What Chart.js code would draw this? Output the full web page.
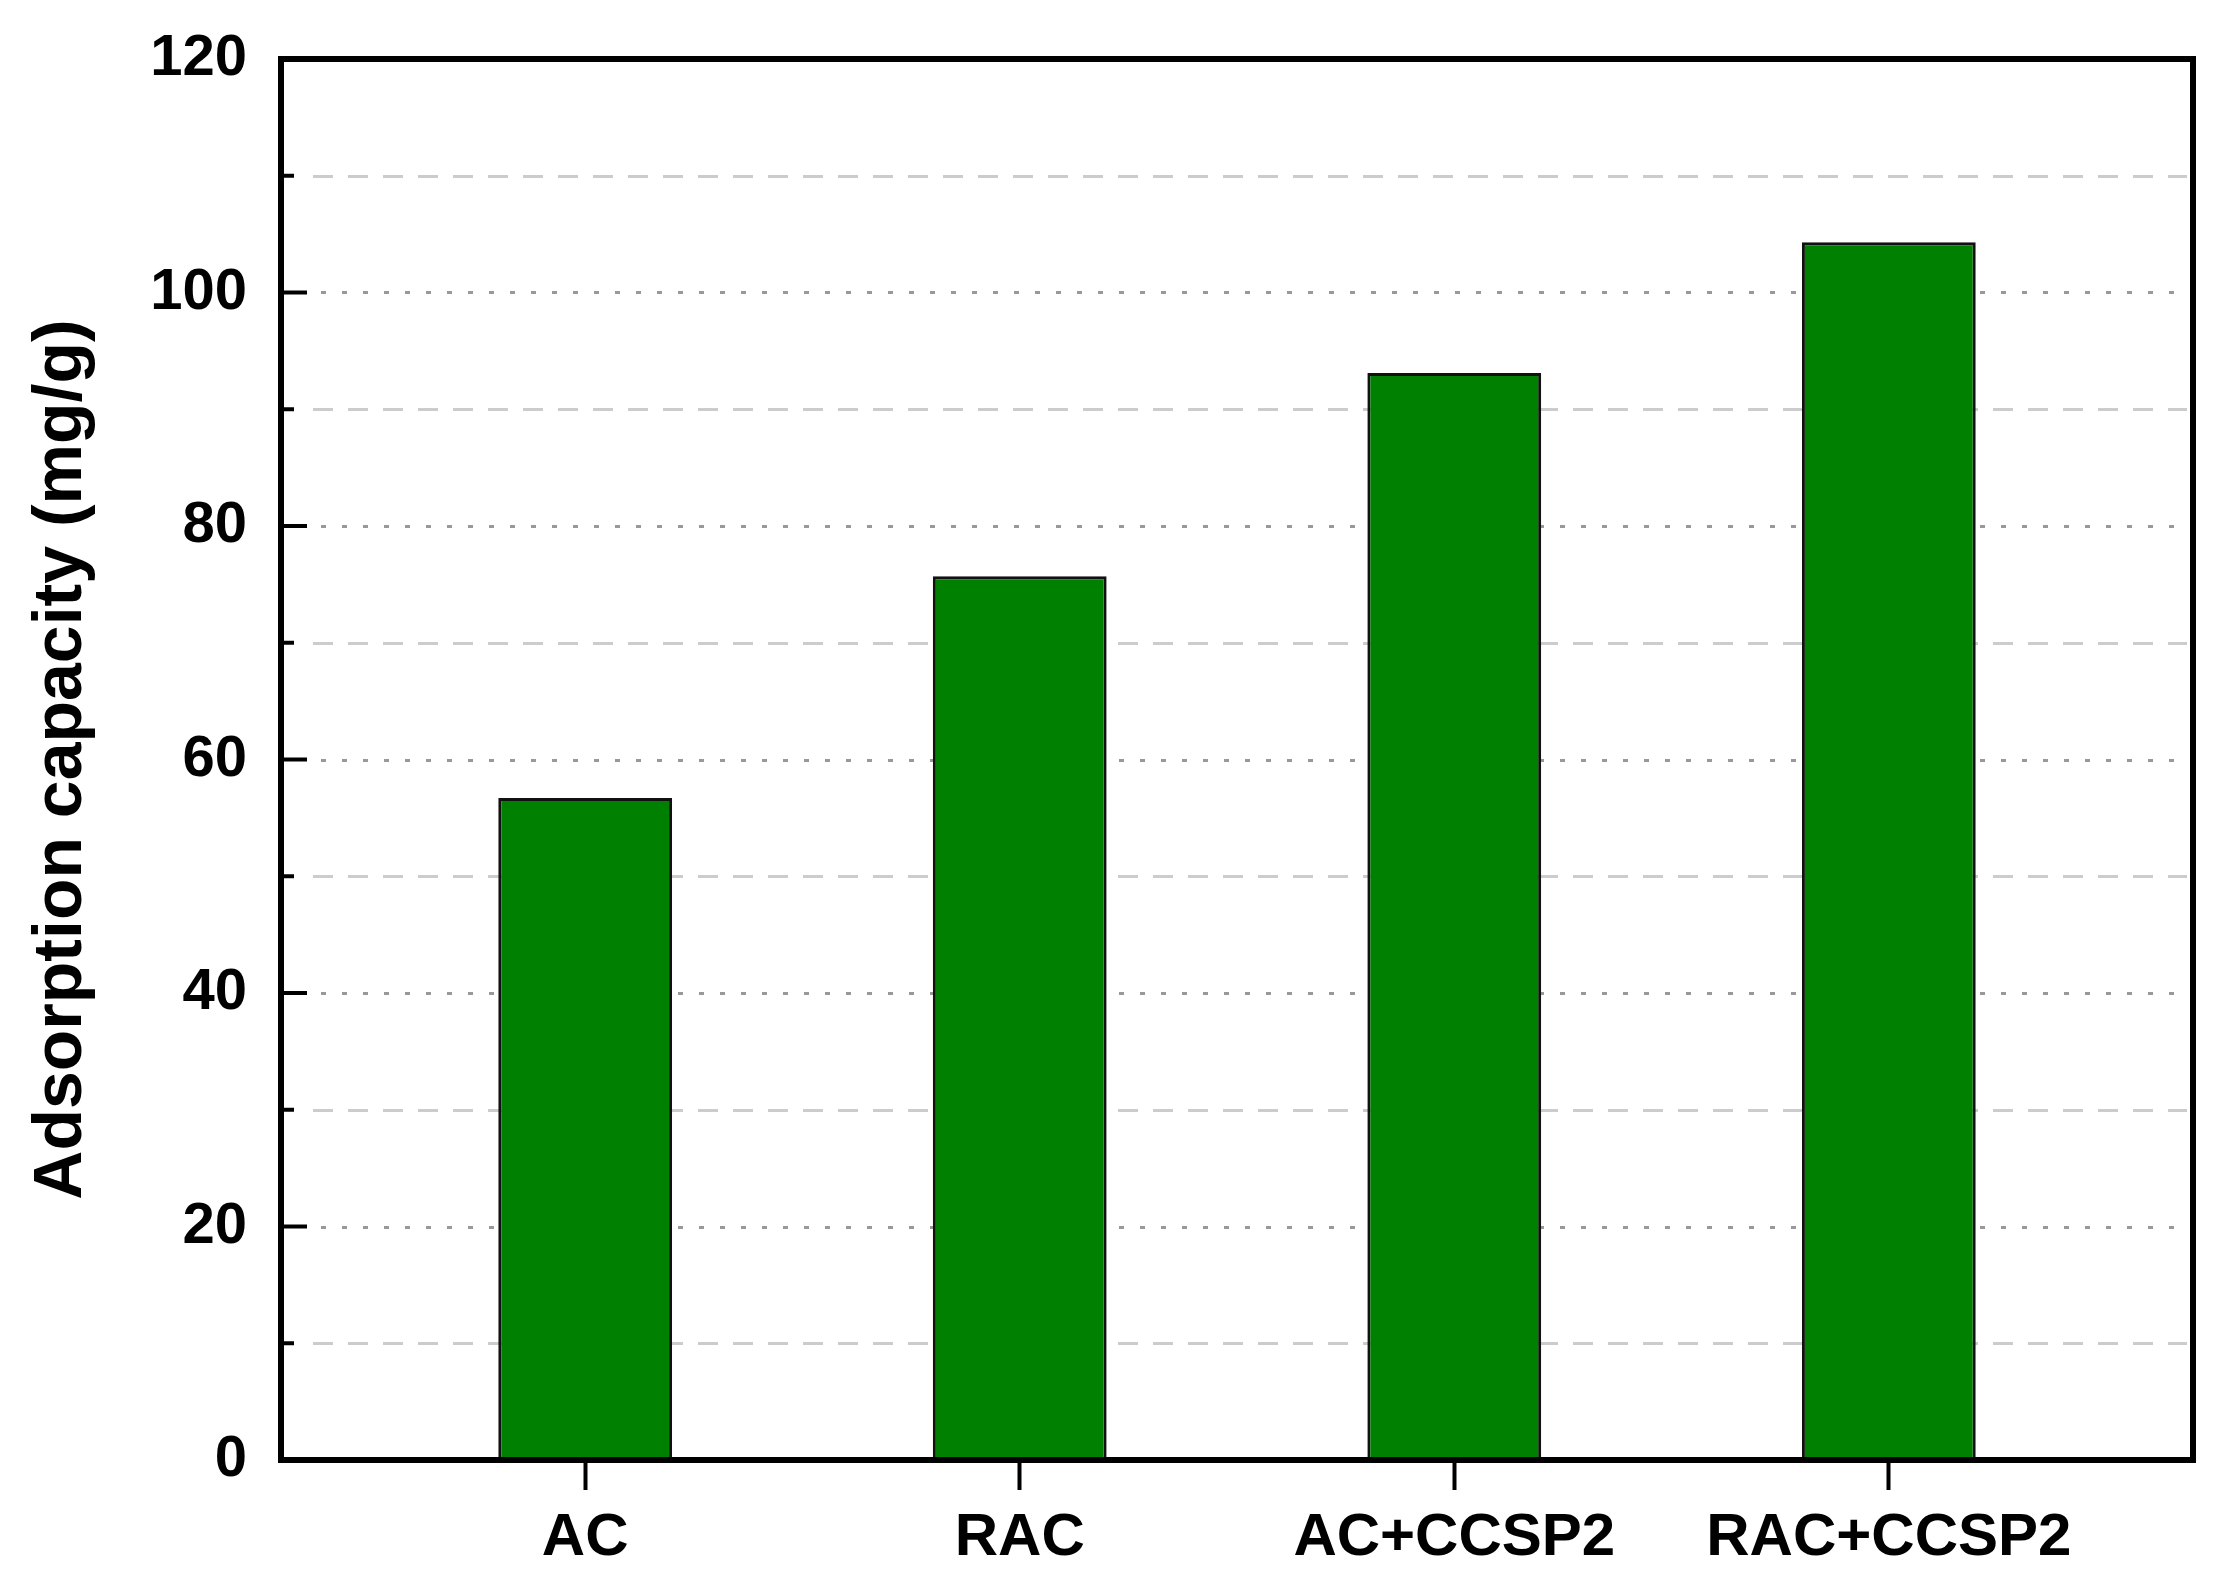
<!DOCTYPE html>
<html><head><meta charset="utf-8">
<script src="https://cdn.jsdelivr.net/npm/chart.js@4"></script>
<style>html,body{margin:0;padding:0;background:#fff}canvas{display:block}</style>
</head><body>
<canvas id="c" width="2226" height="1590"></canvas>
<script>
// ---- data ----
const categories = ["AC", "RAC", "AC+CCSP2", "RAC+CCSP2"];
const capacity = [56.7, 75.7, 93.1, 104.3];
const yMin = 0, yMax = 120, yStep = 10, yLabelStep = 20;
const yAxisTitle = "Adsorption capacity (mg/g)";

const FONT = "'Liberation Sans', Arial, Helvetica, sans-serif";

const framePlugin = {
  id: 'frame',
  beforeDatasetsDraw(chart) {
    const {ctx, chartArea: a, scales: {y}} = chart;
    ctx.save();
    y.ticks.forEach(t => {
      if (t.value <= yMin || t.value >= yMax) return;
      const py = Math.round(y.getPixelForValue(t.value)) + 0.5;
      const major = t.value % yLabelStep === 0;
      ctx.beginPath();
      ctx.setLineDash(major ? [5, 16] : [20, 15]);
      ctx.strokeStyle = major ? '#999999' : '#cccccc';
      ctx.lineWidth = 3;
      ctx.moveTo(a.left + (major ? 40 : 32), py);
      ctx.lineTo(a.right - 6, py);
      ctx.stroke();
    });
    ctx.restore();
  },
  afterDraw(chart) {
    const {ctx, chartArea: a, scales: {y}} = chart;
    ctx.save();
    ctx.setLineDash([]);
    ctx.strokeStyle = '#000';
    ctx.lineWidth = 4;
    y.ticks.forEach(t => {
      if (t.value <= yMin || t.value >= yMax) return;
      const py = y.getPixelForValue(t.value);
      const major = t.value % yLabelStep === 0;
      ctx.beginPath();
      ctx.moveTo(a.left, py);
      ctx.lineTo(a.left + (major ? 26 : 13), py);
      ctx.stroke();
    });
    ctx.lineWidth = 6;
    ctx.strokeRect(a.left, a.top, a.right - a.left, a.bottom - a.top);
    ctx.restore();
  }
};

new Chart(document.getElementById('c'), {
  type: 'bar',
  data: {
    datasets: [{
      data: categories.map((c, i) => ({x: i + 1, y: capacity[i]})),
      backgroundColor: '#008000',
      borderColor: '#111111',
      borderWidth: 3,
      barPercentage: 0.4,
      categoryPercentage: 1.0
    }]
  },
  options: {
    responsive: false,
    animation: false,
    devicePixelRatio: 1,
    layout: {padding: {top: 59, right: 33, left: 0, bottom: 0}},
    plugins: {legend: {display: false}, tooltip: {enabled: false}},
    scales: {
      x: {
        type: 'linear',
        min: 0.3, max: 4.7,
        offset: false,
        afterBuildTicks: s => { s.ticks = categories.map((c, i) => ({value: i + 1})); },
        afterFit: s => { s.height = 130; s.paddingLeft = 0; s.paddingRight = 0; },
        grid: {display: true, offset: false, drawOnChartArea: false, drawTicks: true, tickLength: 30, tickWidth: 4, tickColor: '#000'},
        border: {display: false},
        ticks: {
          autoSkip: false, maxRotation: 0, padding: 12, color: '#000',
          font: {family: FONT, size: 60, weight: 'bold'},
          callback: v => categories[Math.round(v) - 1] ?? ''
        }
      },
      y: {
        min: yMin, max: yMax,
        afterFit: s => { s.width = 281; s.paddingTop = 0; s.paddingBottom = 0; },
        grid: {display: true, drawOnChartArea: false, drawTicks: false},
        border: {display: false},
        ticks: {
          stepSize: yStep, autoSkip: false, padding: 34, color: '#000',
          font: {family: FONT, size: 58, weight: 'bold'},
          callback: v => (v % yLabelStep === 0 ? String(v) : '')
        },
        title: {
          display: true, text: yAxisTitle, color: '#000',
          font: {family: FONT, size: 68, weight: 'bold'},
          padding: {top: 21, bottom: 0}
        }
      }
    }
  },
  plugins: [framePlugin]
});
</script>
</body></html>
